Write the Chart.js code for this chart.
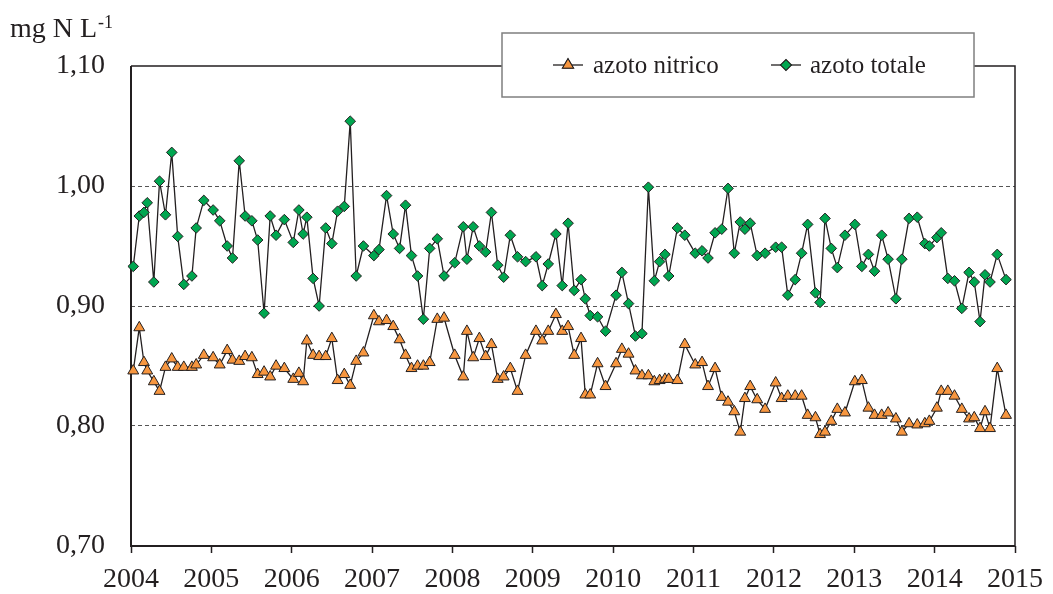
<!DOCTYPE html>
<html><head><meta charset="utf-8">
<script src="https://cdn.jsdelivr.net/npm/chart.js@4.4.1/dist/chart.umd.min.js"></script>
<style>html,body{margin:0;padding:0;background:#fff;}#wrap{width:1053px;height:594px;position:relative;}</style>
</head><body><div id="wrap"><canvas id="c" width="1053" height="594"></canvas></div>
<script>
// Sampling dates (decimal years)
const dates = [
2004.028,2004.103,2004.161,2004.202,2004.284,2004.355,2004.429,2004.507,2004.581,2004.657,2004.758,2004.811,2004.906,
2005.022,2005.104,2005.197,2005.263,2005.347,2005.420,2005.504,2005.576,2005.656,2005.732,2005.805,2005.908,
2006.019,2006.089,2006.142,2006.188,2006.266,2006.341,2006.423,2006.499,2006.571,2006.654,2006.728,2006.802,2006.892,
2007.022,2007.086,2007.180,2007.263,2007.342,2007.416,2007.490,2007.566,2007.638,2007.717,2007.811,2007.896,
2008.028,2008.135,2008.180,2008.258,2008.335,2008.413,2008.485,2008.563,2008.637,2008.720,2008.810,2008.911,
2009.039,2009.117,2009.192,2009.287,2009.366,2009.439,2009.515,2009.600,2009.653,2009.714,2009.806,2009.905,
2010.036,2010.108,2010.191,2010.277,2010.358,2010.438,2010.512,2010.578,2010.644,2010.691,2010.799,2010.891,
2011.021,2011.106,2011.180,2011.268,2011.351,2011.429,2011.507,2011.581,2011.639,2011.705,2011.792,2011.890,
2012.022,2012.096,2012.173,2012.265,2012.345,2012.420,2012.517,2012.574,2012.636,2012.714,2012.789,2012.884,
2013.007,2013.094,2013.176,2013.252,2013.341,2013.421,2013.518,2013.592,2013.682,2013.784,2013.878,2013.934,
2014.028,2014.082,2014.164,2014.247,2014.338,2014.428,2014.493,2014.565,2014.627,2014.689,2014.779,2014.888
];
// azoto nitrico (mg N/L)
const azotoNitrico = [
0.846,0.882,0.853,0.846,0.837,0.829,0.849,0.856,0.849,0.849,0.849,0.851,0.859,
0.857,0.851,0.863,0.855,0.854,0.858,0.857,0.843,0.845,0.841,0.850,0.848,
0.839,0.844,0.837,0.871,0.859,0.858,0.858,0.873,0.838,0.843,0.834,0.854,0.861,
0.892,0.887,0.888,0.883,0.872,0.859,0.848,0.850,0.850,0.853,0.889,0.890,
0.859,0.841,0.879,0.857,0.873,0.858,0.868,0.839,0.841,0.848,0.829,0.859,
0.879,0.871,0.879,0.893,0.879,0.883,0.859,0.873,0.826,0.826,0.852,0.833,
0.852,0.864,0.860,0.846,0.842,0.842,0.837,0.838,0.839,0.839,0.838,0.868,
0.851,0.853,0.833,0.848,0.824,0.820,0.812,0.795,0.823,0.833,0.822,0.814,
0.836,0.823,0.825,0.825,0.825,0.809,0.807,0.793,0.795,0.804,0.814,0.811,
0.837,0.838,0.815,0.809,0.809,0.811,0.806,0.795,0.802,0.801,0.802,0.804,
0.815,0.829,0.829,0.825,0.814,0.806,0.807,0.798,0.812,0.798,0.848,0.809
];
// azoto totale (mg N/L)
const azotoTotale = [
0.933,0.975,0.978,0.986,0.920,1.004,0.976,1.028,0.958,0.918,0.925,0.965,0.988,
0.980,0.971,0.950,0.940,1.021,0.975,0.971,0.955,0.894,0.975,0.959,0.972,
0.953,0.980,0.960,0.974,0.923,0.900,0.965,0.952,0.979,0.983,1.054,0.925,0.950,
0.942,0.947,0.992,0.960,0.948,0.984,0.942,0.925,0.889,0.948,0.956,0.925,
0.936,0.966,0.939,0.966,0.950,0.945,0.978,0.934,0.924,0.959,0.941,0.937,
0.941,0.917,0.935,0.960,0.917,0.969,0.913,0.922,0.906,0.892,0.891,0.879,
0.909,0.928,0.902,0.875,0.877,0.999,0.921,0.937,0.943,0.925,0.965,0.959,
0.944,0.946,0.940,0.961,0.964,0.998,0.944,0.970,0.964,0.969,0.942,0.944,
0.949,0.949,0.909,0.922,0.944,0.968,0.911,0.903,0.973,0.948,0.932,0.959,
0.968,0.933,0.943,0.929,0.959,0.939,0.906,0.939,0.973,0.974,0.952,0.950,
0.957,0.961,0.923,0.921,0.898,0.928,0.920,0.887,0.926,0.920,0.943,0.922
];
const seriesNames = ['azoto nitrico', 'azoto totale'];
const xTicks = [2004,2005,2006,2007,2008,2009,2010,2011,2012,2013,2014,2015];
const yTicks = [0.70,0.80,0.90,1.00,1.10];
const gridValues = [0.80,0.90,1.00];
const unitMain = 'mg N L';
const unitSup = '-1';

const INK = '#231f20';
const ORANGE = '#F7963F';
const GREEN = '#00A650';
const SERIF = "'Liberation Serif','Times New Roman',serif";

const mk = (ys) => ys.map((y, i) => ({x: dates[i], y}));

const framePlugin = {
  id: 'frame',
  beforeDatasetsDraw(chart) {
    const {ctx, chartArea: a} = chart;
    ctx.save();
    ctx.strokeStyle = INK;
    ctx.lineWidth = 1.5;
    ctx.beginPath();
    ctx.moveTo(a.left, a.top); ctx.lineTo(a.right, a.top); ctx.lineTo(a.right, a.bottom);
    ctx.stroke();
    ctx.lineWidth = 2;
    ctx.beginPath();
    ctx.moveTo(a.left, a.top); ctx.lineTo(a.left, a.bottom); ctx.lineTo(a.right, a.bottom);
    ctx.stroke();
    ctx.restore();
  },
  afterDraw(chart) {
    const {ctx} = chart;
    ctx.save();
    // unit label
    ctx.fillStyle = INK;
    ctx.textBaseline = 'alphabetic';
    ctx.textAlign = 'left';
    ctx.font = '28px ' + SERIF;
    ctx.fillText(unitMain, 10, 37);
    const w = ctx.measureText(unitMain).width;
    ctx.font = '18px ' + SERIF;
    ctx.fillText(unitSup, 10 + w + 1, 28);
    // legend box
    const bx = 502, by = 33, bw = 472, bh = 64;
    ctx.fillStyle = '#fff';
    ctx.fillRect(bx, by, bw, bh);
    ctx.strokeStyle = '#7f7f7f';
    ctx.lineWidth = 1.5;
    ctx.strokeRect(bx, by, bw, bh);
    const cy = 65;
    const items = [
      {x0: 553, x1: 583, tx: 593, ds: 0},
      {x0: 771, x1: 801, tx: 810, ds: 1}
    ];
    items.forEach(it => {
      const d = chart.data.datasets[it.ds];
      ctx.strokeStyle = INK; ctx.lineWidth = 1.3;
      ctx.beginPath(); ctx.moveTo(it.x0, cy); ctx.lineTo(it.x1, cy); ctx.stroke();
      Chart.helpers.drawPoint(ctx, {
        pointStyle: d.pointStyle, radius: d.pointRadius, borderWidth: d.pointBorderWidth, rotation: 0
      }, (it.x0 + it.x1) / 2, cy);
      ctx.fillStyle = d.pointBackgroundColor; ctx.strokeStyle = d.pointBorderColor;
      ctx.lineWidth = d.pointBorderWidth;
      ctx.fill(); ctx.stroke();
      ctx.fillStyle = INK;
      ctx.font = '25px ' + SERIF;
      ctx.textBaseline = 'alphabetic';
      ctx.fillText(d.label, it.tx, 73);
    });
    ctx.restore();
  }
};

new Chart(document.getElementById('c'), {
  type: 'line',
  data: {
    datasets: [
      {
        label: seriesNames[0], data: mk(azotoNitrico),
        borderColor: INK, borderWidth: 1.3, tension: 0, clip: false,
        pointStyle: 'triangle', pointRadius: 6.3, pointHoverRadius: 6.3,
        pointBackgroundColor: ORANGE, pointBorderColor: INK, pointBorderWidth: 1
      },
      {
        label: seriesNames[1], data: mk(azotoTotale),
        borderColor: INK, borderWidth: 1.3, tension: 0, clip: false,
        pointStyle: 'rectRot', pointRadius: 5.3, pointHoverRadius: 5.3,
        pointBackgroundColor: GREEN, pointBorderColor: INK, pointBorderWidth: 1
      }
    ]
  },
  options: {
    responsive: false, animation: false, devicePixelRatio: 1,
    layout: {padding: {left: 0, right: 32, top: 66, bottom: 0}},
    plugins: {legend: {display: false}, tooltip: {enabled: false}, title: {display: false}},
    scales: {
      x: {
        type: 'linear', min: 2004, max: 2015,
        afterBuildTicks: s => { s.ticks = xTicks.map(v => ({value: v})); },
        afterFit: s => { s.height = 48; },
        ticks: {
          callback: v => String(v), autoSkip: false, maxRotation: 0, minRotation: 0,
          font: {family: SERIF, size: 28}, color: INK, padding: 10
        },
        grid: {drawOnChartArea: false, drawTicks: true, tickLength: 7, tickColor: INK, tickWidth: 1.5, color: INK},
        border: {display: false}
      },
      y: {
        min: 0.70, max: 1.10,
        afterBuildTicks: s => { s.ticks = yTicks.map(v => ({value: v})); },
        afterFit: s => { s.width = 131; },
        ticks: {
          callback: v => Number(v).toFixed(2).replace('.', ','),
          font: {family: SERIF, size: 28}, color: INK, padding: 26
        },
        grid: {
          drawTicks: false, lineWidth: 1,
          color: c => (c.tick && gridValues.some(g => Math.abs(g - c.tick.value) < 1e-6)) ? '#555555' : 'rgba(0,0,0,0)'
        },
        border: {display: false, dash: [4, 3]}
      }
    }
  },
  plugins: [framePlugin]
});
</script>
</body></html>
